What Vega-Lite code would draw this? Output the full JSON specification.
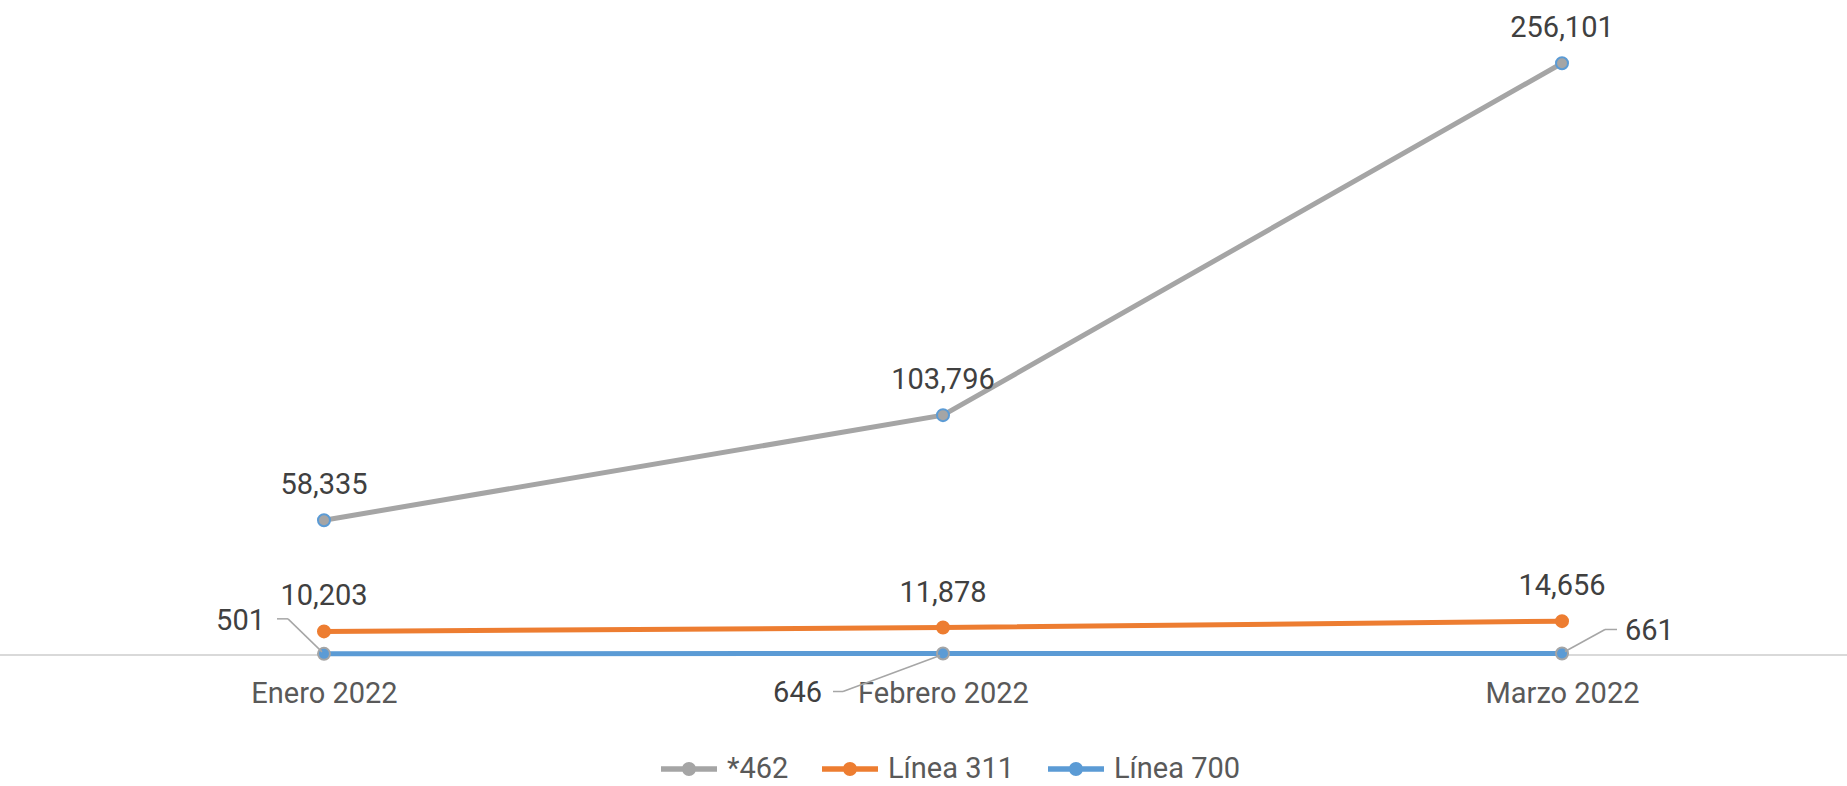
{
  "$schema": "https://vega.github.io/schema/vega-lite/v6.json",
  "autosize": "none",
  "width": 1808,
  "height": 647,
  "padding": {"left": 39, "top": 8, "right": 0, "bottom": 131},
  "background": "white",
  "config": {"view": {"stroke": null}, "font": "Roboto"},
  "data": {
    "values": [
      {"Mes": "Enero 2022", "Serie": "*462", "Valor": 58335},
      {"Mes": "Febrero 2022", "Serie": "*462", "Valor": 103796},
      {"Mes": "Marzo 2022", "Serie": "*462", "Valor": 256101},
      {"Mes": "Enero 2022", "Serie": "Línea 311", "Valor": 10203},
      {"Mes": "Febrero 2022", "Serie": "Línea 311", "Valor": 11878},
      {"Mes": "Marzo 2022", "Serie": "Línea 311", "Valor": 14656},
      {"Mes": "Enero 2022", "Serie": "Línea 700", "Valor": 501},
      {"Mes": "Febrero 2022", "Serie": "Línea 700", "Valor": 646},
      {"Mes": "Marzo 2022", "Serie": "Línea 700", "Valor": 661}
    ]
  },
  "encoding": {
    "x": {
      "field": "Mes", "type": "ordinal",
      "sort": ["Enero 2022", "Febrero 2022", "Marzo 2022"],
      "scale": {"type": "point", "padding": 0.4604},
      "axis": {"title": null, "domain": false, "ticks": false, "tickSize": 0, "grid": false,
               "labelAngle": 0, "labelFontSize": 29, "labelFont": "Roboto", "labelColor": "#595959", "labelPadding": 24}
    },
    "y": {
      "field": "Valor", "type": "quantitative",
      "scale": {"domain": [0, 280000], "nice": false},
      "axis": null
    }
  },
  "layer": [
    {
      "mark": {"type": "rule", "color": "#d9d9d9", "strokeWidth": 1.5, "xOffset": -39},
      "encoding": {
        "x": {"value": 0},
        "x2": {"value": "width"},
        "y": {"datum": 0, "type": "quantitative"}
      }
    },
    {
      "mark": {"type": "line", "strokeWidth": 5, "strokeCap": "round"},
      "encoding": {
        "color": {
          "field": "Serie", "type": "nominal",
          "scale": {"domain": ["*462", "Línea 311", "Línea 700"], "range": ["#a5a5a5", "#ed7d31", "#5b9bd5"]},
          "legend": {
            "title": null, "orient": "none", "direction": "horizontal", "legendX": 622, "legendY": 733,
            "labelFontSize": 29, "labelFont": "Roboto", "labelColor": "#595959",
            "symbolType": "M-1,-0.1 L1,-0.1 L1,0.1 L-1,0.1 Z M0.25,0 A0.25,0.25 0 1,1 -0.25,0 A0.25,0.25 0 1,1 0.25,0 Z",
            "symbolSize": 3136, "symbolStrokeWidth": 0, "columnPadding": 33, "labelOffset": 10,
            "encode": {"symbols": {"update": {"fill": {"scale": "color", "field": "value"}, "strokeWidth": {"value": 0}, "opacity": {"value": 1}}}}
          }
        }
      }
    },
    {
      "mark": {"type": "point", "filled": true, "size": 144, "strokeWidth": 2, "opacity": 1},
      "encoding": {
        "fill": {
          "field": "Serie", "type": "nominal",
          "scale": {"domain": ["*462", "Línea 311", "Línea 700"], "range": ["#a5a5a5", "#ed7d31", "#5b9bd5"]},
          "legend": null
        },
        "stroke": {
          "field": "Serie", "type": "nominal",
          "scale": {"domain": ["*462", "Línea 311", "Línea 700"], "range": ["#5b9bd5", "#ed7d31", "#a5a5a5"]},
          "legend": null
        }
      }
    },
    {
      "transform": [{"filter": "datum.Serie !== 'Línea 700'"}],
      "mark": {"type": "text", "fontSize": 29, "font": "Roboto", "color": "#404040", "dy": -26, "baseline": "alphabetic", "align": "center"},
      "encoding": {"text": {"field": "Valor", "type": "quantitative", "format": ","}}
    },
    {
      "transform": [{"filter": "datum.Serie === 'Línea 700' && datum.Mes === 'Enero 2022'"}],
      "mark": {"type": "text", "fontSize": 29, "font": "Roboto", "color": "#404040", "dx": -59, "dy": -24, "baseline": "alphabetic", "align": "right"},
      "encoding": {"text": {"field": "Valor", "type": "quantitative", "format": ","}}
    },
    {
      "transform": [{"filter": "datum.Serie === 'Línea 700' && datum.Mes === 'Febrero 2022'"}],
      "mark": {"type": "text", "fontSize": 29, "font": "Roboto", "color": "#404040", "dx": -121, "dy": 48, "baseline": "alphabetic", "align": "right"},
      "encoding": {"text": {"field": "Valor", "type": "quantitative", "format": ","}}
    },
    {
      "transform": [{"filter": "datum.Serie === 'Línea 700' && datum.Mes === 'Marzo 2022'"}],
      "mark": {"type": "text", "fontSize": 29, "font": "Roboto", "color": "#404040", "dx": 63, "dy": -13, "baseline": "alphabetic", "align": "left"},
      "encoding": {"text": {"field": "Valor", "type": "quantitative", "format": ","}}
    },
    {
      "transform": [{"filter": "datum.Serie === 'Línea 700' && datum.Mes === 'Enero 2022'"}],
      "mark": {"type": "rule", "color": "#a6a6a6", "strokeWidth": 1.5, "xOffset": -2, "yOffset": -2, "x2Offset": -36, "y2Offset": -35},
      "encoding": {"x2": {"field": "Mes"}, "y2": {"field": "Valor"}}
    },
    {
      "transform": [{"filter": "datum.Serie === 'Línea 700' && datum.Mes === 'Enero 2022'"}],
      "mark": {"type": "rule", "color": "#a6a6a6", "strokeWidth": 1.5, "xOffset": -36, "yOffset": -35, "x2Offset": -47, "y2Offset": -35},
      "encoding": {"x2": {"field": "Mes"}, "y2": {"field": "Valor"}}
    },
    {
      "transform": [{"filter": "datum.Serie === 'Línea 700' && datum.Mes === 'Febrero 2022'"}],
      "mark": {"type": "rule", "color": "#a6a6a6", "strokeWidth": 1.5, "xOffset": -3, "yOffset": 2, "x2Offset": -100, "y2Offset": 38},
      "encoding": {"x2": {"field": "Mes"}, "y2": {"field": "Valor"}}
    },
    {
      "transform": [{"filter": "datum.Serie === 'Línea 700' && datum.Mes === 'Febrero 2022'"}],
      "mark": {"type": "rule", "color": "#a6a6a6", "strokeWidth": 1.5, "xOffset": -100, "yOffset": 38, "x2Offset": -110, "y2Offset": 38},
      "encoding": {"x2": {"field": "Mes"}, "y2": {"field": "Valor"}}
    },
    {
      "transform": [{"filter": "datum.Serie === 'Línea 700' && datum.Mes === 'Marzo 2022'"}],
      "mark": {"type": "rule", "color": "#a6a6a6", "strokeWidth": 1.5, "xOffset": 3, "yOffset": -2, "x2Offset": 43, "y2Offset": -24},
      "encoding": {"x2": {"field": "Mes"}, "y2": {"field": "Valor"}}
    },
    {
      "transform": [{"filter": "datum.Serie === 'Línea 700' && datum.Mes === 'Marzo 2022'"}],
      "mark": {"type": "rule", "color": "#a6a6a6", "strokeWidth": 1.5, "xOffset": 43, "yOffset": -24, "x2Offset": 55, "y2Offset": -24},
      "encoding": {"x2": {"field": "Mes"}, "y2": {"field": "Valor"}}
    }
  ]
}
